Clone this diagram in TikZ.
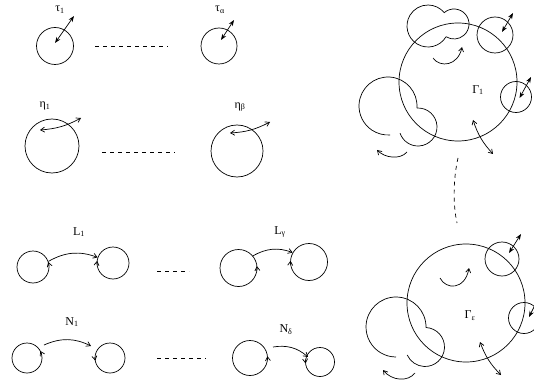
\documentclass[tikz,border=0pt]{standalone}
\usepackage{fontspec}
\setmainfont{Liberation Serif}
\usetikzlibrary{arrows.meta}
\begin{document}
\begin{tikzpicture}[x=1pt,y=-1pt,line width=0.7pt,
  ring/.style={draw},
  lbl/.style={font=\fontsize{12}{14}\selectfont,inner sep=0pt},
  dbl/.style={{Stealth[length=6pt,width=4.5pt]}-{Stealth[length=6pt,width=4.5pt]}},
  barb/.style={-{Straight Barb[length=4pt,width=5pt]}},
  dblbarb/.style={{Straight Barb[length=4pt,width=5pt]}-{Straight Barb[length=4pt,width=5pt]}},
  dotline/.style={dash pattern=on 4pt off 4pt}]
\useasboundingbox (0,0) rectangle (534,387);
\clip (0,0) rectangle (534,387);
% ---- tau row
\node[ring,circle,minimum size=37pt,inner sep=0pt] (t1) at (55,46) {};
\node[ring,circle,minimum size=36pt,inner sep=0pt] (ta) at (219,46) {};
\coordinate (t1a) at (55,43); \coordinate (t1b) at (74,16);
\coordinate (taa) at (221,40); \coordinate (tab) at (234,20);
\draw[dbl] (t1a) -- (t1b);
\draw[dbl] (taa) -- (tab);
\node[lbl] (lt1) at (60,10) {τ\textsubscript{1}};
\node[lbl] (lta) at (220,10) {τ\textsubscript{α}};
\coordinate (d1a) at (95,46); \coordinate (d1b) at (168,46);
\draw[dotline] (d1a) -- (d1b);
% ---- eta row
\node[ring,circle,minimum size=54pt,inner sep=0pt] (e1) at (52,146) {};
\node[ring,circle,minimum size=52pt,inner sep=0pt] (eb) at (237,151) {};
\coordinate (e1a) at (40,130); \coordinate (e1b) at (81,118);
\coordinate (eba) at (230,133); \coordinate (ebb) at (270,122);
\draw[dblbarb] (e1a) to[bend right=12] (e1b);
\draw[dblbarb] (eba) to[bend right=12] (ebb);
\node[lbl] (le1) at (45,106) {η\textsubscript{1}};
\node[lbl] (leb) at (240,107) {η\textsubscript{β}};
\coordinate (d2a) at (102,152); \coordinate (d2b) at (175,152);
\draw[dotline] (d2a) -- (d2b);
% ---- L row
\node[ring,circle,minimum size=32pt,inner sep=0pt] (l1) at (33,267) {};
\node[ring,circle,minimum size=32pt,inner sep=0pt] (l2) at (113,263) {};
\node[ring,circle,minimum size=37pt,inner sep=0pt] (g1) at (238.5,268) {};
\node[ring,circle,minimum size=37pt,inner sep=0pt] (g2) at (309,262) {};
\draw[barb] (l1.20) to[bend left=25] (l2.160);
\draw[barb] (g1.40) to[bend left=25] (g2.150);
\draw[barb] (l1.center) ++(-4:16) arc[start angle=-4,end angle=-18,radius=16];
\draw[barb] (l2.center) ++(174:16) arc[start angle=174,end angle=188,radius=16];
\draw[barb] (g1.center) ++(8:18.5) arc[start angle=8,end angle=-6,radius=18.5];
\draw[barb] (g2.center) ++(170:18.5) arc[start angle=170,end angle=184,radius=18.5];
\node[lbl] (ll1) at (79,232) {L\textsubscript{1}};
\node[lbl] (llg) at (280,232) {L\textsubscript{γ}};
\coordinate (d3a) at (157,271); \coordinate (d3b) at (189,271);
\draw[dotline] (d3a) -- (d3b);
% ---- N row
\node[ring,circle,minimum size=30pt,inner sep=0pt] (n1) at (27,358) {};
\node[ring,circle,minimum size=30pt,inner sep=0pt] (n2) at (110,358) {};
\node[ring,circle,minimum size=35pt,inner sep=0pt] (m1) at (250,358) {};
\node[ring,circle,minimum size=29pt,inner sep=0pt] (m2) at (320,362) {};
\coordinate (n1s) at (44,345); \coordinate (n2s) at (91,346);
\coordinate (m1s) at (273,347); \coordinate (m2s) at (308,357);
\draw[barb] (n1s) to[bend left=25] (n2s);
\draw[barb] (m1s) to[bend left=25] (m2s);
\draw[barb] (n1.center) ++(-14:15) arc[start angle=-14,end angle=-28,radius=15];
\draw[barb] (n2.center) ++(184:15) arc[start angle=184,end angle=170,radius=15];
\draw[barb] (m1.center) ++(8:17.5) arc[start angle=8,end angle=-6,radius=17.5];
\draw[barb] (m2.center) ++(190:14.5) arc[start angle=190,end angle=174,radius=14.5];
\node[lbl] (ln1) at (72,322) {N\textsubscript{1}};
\node[lbl] (lnd) at (286,330) {N\textsubscript{δ}};
\coordinate (d4a) at (157,358); \coordinate (d4b) at (206,358);
\draw[dotline] (d4a) -- (d4b);
% ---- Gamma 1
\node[ring,circle,minimum size=118pt,inner sep=0pt] (G1) at (458,82) {};
\node[lbl] (lG1) at (478,90) {Γ\textsubscript{1}};
\node[ring,circle,minimum size=36pt,inner sep=0pt] (s1) at (495,35) {};
\node[ring,circle,minimum size=31pt,inner sep=0pt] (s2) at (516,97) {};
\coordinate (s1a) at (502,32); \coordinate (s1b) at (513,13);
\coordinate (s2a) at (519.5,98); \coordinate (s2b) at (531,77);
\draw[dbl] (s1a) -- (s1b);
\draw[dbl] (s2a) -- (s2b);
% top cloud
\draw (428,26) ++(30.7:21) arc[start angle=30.7,end angle=320.5,radius=21]
  arc[start angle=-130.8,end angle=122,radius=15];
% left cloud
\draw (388,106) ++(4:29) arc[start angle=4,end angle=-274,radius=29];
\draw (418,127) ++(-93:19) arc[start angle=-93,end angle=161,radius=19];
% curved arrows
\coordinate (c1a) at (433,58); \coordinate (c1b) at (462,47);
\draw[barb] (c1a) .. controls (440,68) and (458,66) .. (c1b);
\coordinate (c2a) at (407,152); \coordinate (c2b) at (377,150);
\draw[barb] (c2a) .. controls (400,160) and (385,158) .. (c2b);
\coordinate (c3a) at (473,120); \coordinate (c3b) at (493,154);
\draw[dblbarb] (c3a) to[bend right=12] (c3b);
% ---- connector
\coordinate (v1) at (458,158); \coordinate (v2) at (457,223);
\draw[dotline] (v1) .. controls (453,180) and (453,205) .. (v2);
% ---- Gamma epsilon
\node[ring,circle,minimum size=118pt,inner sep=0pt] (G2) at (466,303) {};
\node[lbl] (lG2) at (470,316) {Γ\textsubscript{ε}};
\node[ring,circle,minimum size=34pt,inner sep=0pt] (s3) at (502,259) {};
\node[ring,circle,minimum size=31pt,inner sep=0pt] (s4) at (524,318) {};
\coordinate (s3a) at (509,253); \coordinate (s3b) at (521,234);
\coordinate (s4a) at (529,317); \coordinate (s4b) at (539,297);
\draw[dbl] (s3a) -- (s3b);
\draw[dbl] (s4a) -- (s4b);
% left cloud
\draw (396,327) ++(1:30) arc[start angle=1,end angle=-270,radius=30];
\draw (425,347) ++(-87:19.5) arc[start angle=-87,end angle=156,radius=19.5];
\coordinate (c4a) at (440,278); \coordinate (c4b) at (469,268);
\draw[barb] (c4a) .. controls (446,290) and (465,290) .. (c4b);
\coordinate (c5a) at (415,373); \coordinate (c5b) at (383,370);
\draw[barb] (c5a) .. controls (408,382) and (392,381) .. (c5b);
\coordinate (c6a) at (480,342); \coordinate (c6b) at (501,375);
\draw[dblbarb] (c6a) to[bend right=12] (c6b);
\end{tikzpicture}
\end{document}
